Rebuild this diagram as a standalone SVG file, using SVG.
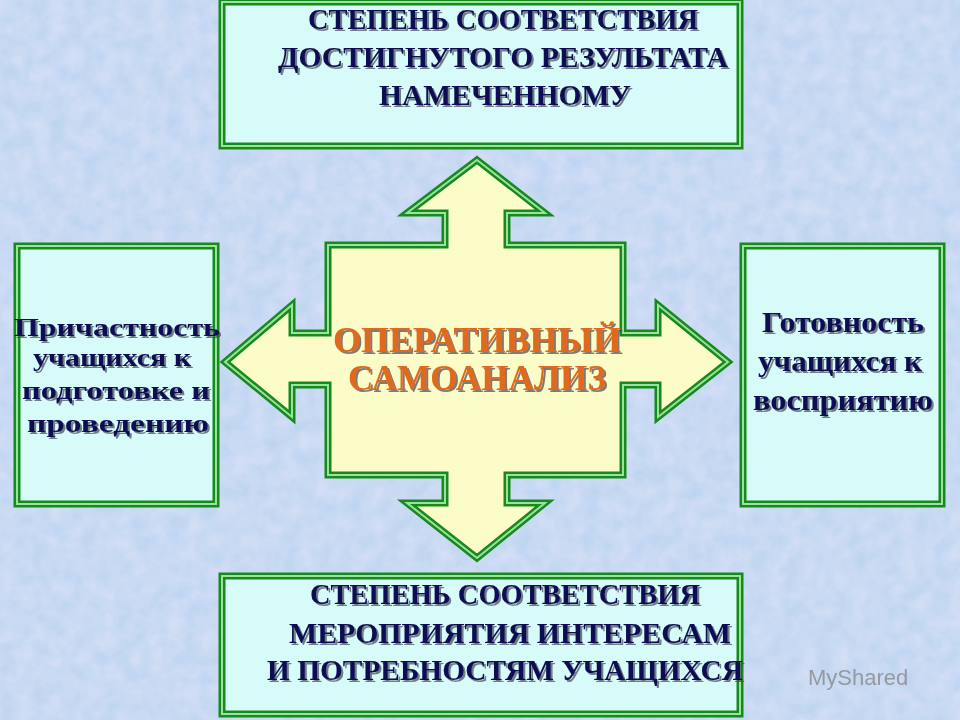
<svg xmlns="http://www.w3.org/2000/svg" width="960" height="720" viewBox="0 0 960 720">
<defs>
<filter id="mott" x="0" y="0" width="100%" height="100%">
<feTurbulence type="fractalNoise" baseFrequency="0.06" numOctaves="3" seed="4"/>
<feColorMatrix type="matrix" values="0 0 0 0 0.76  0 0 0 0 0.78  0 0 0 0 0.95  0.8 0 0 0 0"/>
</filter>
<filter id="sh"><feDropShadow dx="2" dy="2" stdDeviation="0.6" flood-color="#445" flood-opacity="0.7"/></filter>
</defs>
<style>
.box{fill:#d6fbf8;stroke:#178a1f;stroke-width:7}
.inner{fill:none;stroke:#9be29b;stroke-width:2}
.t{font-family:"Liberation Serif",serif;font-weight:bold;font-size:29px;fill:#0c0c55;text-anchor:middle;filter:url(#sh)}
.s{font-size:30px}
.l{font-size:26px}
.c{font-family:"Liberation Serif",serif;font-weight:bold;font-size:36px;fill:#e0691a;text-anchor:middle;filter:url(#sh)}
</style>
<rect width="960" height="720" fill="#b8d2ef"/>
<rect width="960" height="720" filter="url(#mott)"/>
<g id="connectors">
<path id="cross" d="M477,160 L545,213 L507,213 L507,245 L623,245 L623,333 L658,333 L658,305 L728,362 L658,417 L658,385 L623,385 L623,475 L507,475 L507,503 L545,503 L477,558 L407,503 L445,503 L445,475 L328,475 L328,385 L292,385 L292,417 L225,362 L292,305 L292,333 L328,333 L328,245 L445,245 L445,213 L407,213 Z" fill="#fcfcc8" stroke="#178a1f" stroke-width="7" stroke-linejoin="miter"/>
<path d="M477,160 L545,213 L507,213 L507,245 L623,245 L623,333 L658,333 L658,305 L728,362 L658,417 L658,385 L623,385 L623,475 L507,475 L507,503 L545,503 L477,558 L407,503 L445,503 L445,475 L328,475 L328,385 L292,385 L292,417 L225,362 L292,305 L292,333 L328,333 L328,245 L445,245 L445,213 L407,213 Z" fill="none" stroke="#9be29b" stroke-width="2"/>
</g>
<g id="center">
<text class="c" x="477" y="352" textLength="288" lengthAdjust="spacingAndGlyphs">ОПЕРАТИВНЫЙ</text>
<text class="c" x="477" y="390" textLength="258" lengthAdjust="spacingAndGlyphs">САМОАНАЛИЗ</text>
</g>
<g id="top">
<rect class="box" x="222" y="2" width="518" height="144"/>
<rect class="inner" x="222" y="2" width="518" height="144"/>
<text class="t" x="503" y="29" textLength="390" lengthAdjust="spacingAndGlyphs">СТЕПЕНЬ СООТВЕТСТВИЯ</text>
<text class="t" x="503" y="67" textLength="450" lengthAdjust="spacingAndGlyphs">ДОСТИГНУТОГО РЕЗУЛЬТАТА</text>
<text class="t" x="505" y="105" textLength="252" lengthAdjust="spacingAndGlyphs">НАМЕЧЕННОМУ</text>
</g>
<g id="left">
<rect class="box" x="17" y="246" width="199" height="258"/>
<rect class="inner" x="17" y="246" width="199" height="258"/>
<text class="t l" x="117" y="336" textLength="206" lengthAdjust="spacingAndGlyphs">Причастность</text>
<text class="t l" x="112" y="366" textLength="158" lengthAdjust="spacingAndGlyphs">учащихся к</text>
<text class="t l" x="116" y="399" textLength="188" lengthAdjust="spacingAndGlyphs">подготовке и</text>
<text class="t l" x="118" y="432" textLength="182" lengthAdjust="spacingAndGlyphs">проведению</text>
</g>
<g id="right">
<rect class="box" x="743" y="246" width="199" height="258"/>
<rect class="inner" x="743" y="246" width="199" height="258"/>
<text class="t s" x="843" y="332" textLength="162" lengthAdjust="spacingAndGlyphs">Готовность</text>
<text class="t s" x="840" y="371" textLength="164" lengthAdjust="spacingAndGlyphs">учащихся к</text>
<text class="t s" x="843" y="410" textLength="180" lengthAdjust="spacingAndGlyphs">восприятию</text>
</g>
<g id="bottom">
<rect class="box" x="222" y="576" width="518" height="138"/>
<rect class="inner" x="222" y="576" width="518" height="138"/>
<text class="t" x="505" y="604" textLength="390" lengthAdjust="spacingAndGlyphs">СТЕПЕНЬ СООТВЕТСТВИЯ</text>
<text class="t" x="510" y="643" textLength="442" lengthAdjust="spacingAndGlyphs">МЕРОПРИЯТИЯ ИНТЕРЕСАМ</text>
<text class="t" x="505" y="680" textLength="476" lengthAdjust="spacingAndGlyphs">И ПОТРЕБНОСТЯМ УЧАЩИХСЯ</text>
</g>
<text x="808" y="685" font-family="Liberation Sans,sans-serif" font-size="22" fill="#8a8a8a" opacity="0.8">MyShared</text>
</svg>
